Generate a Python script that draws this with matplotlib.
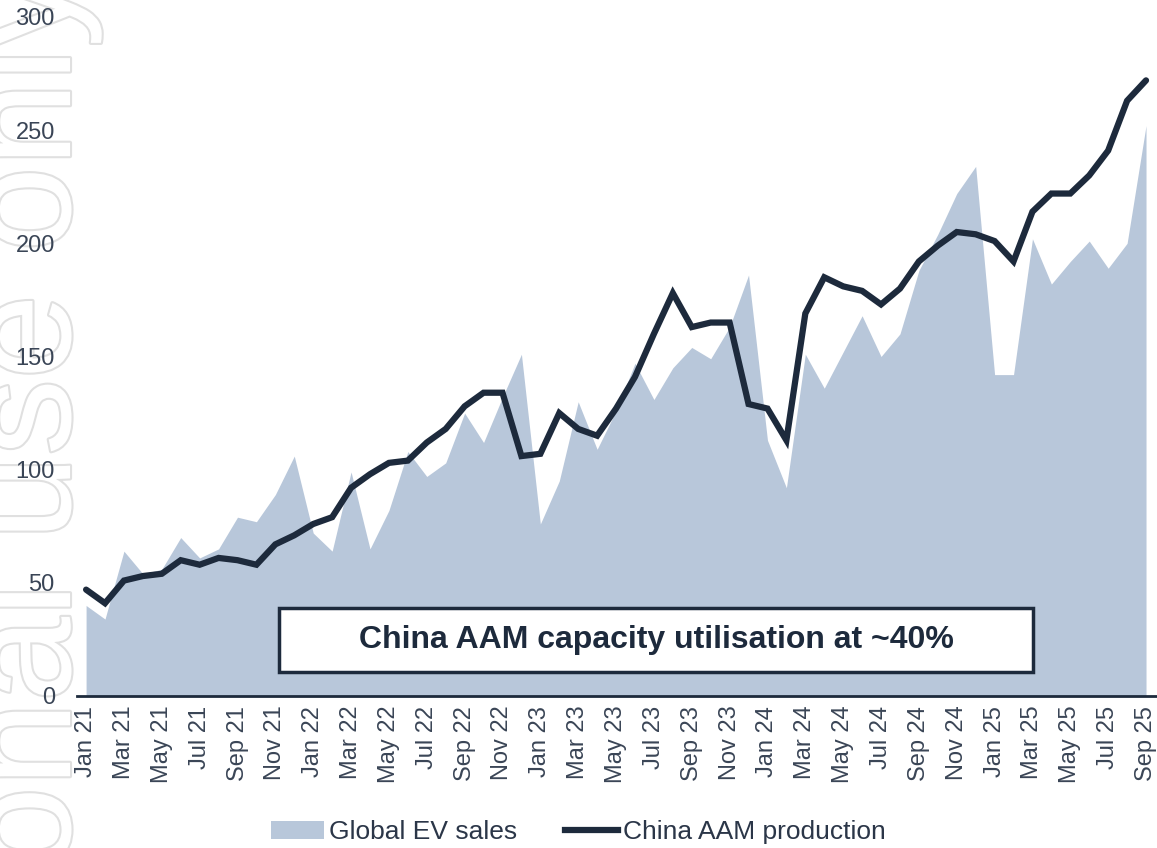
import numpy as np
import pandas as pd
import matplotlib
matplotlib.use("Agg")
import matplotlib.pyplot as plt
from matplotlib.patches import Patch, Rectangle
from matplotlib.lines import Line2D
import matplotlib.patheffects as pe

plt.rcParams['font.family'] = ['Liberation Sans', 'DejaVu Sans']

# monthly series, Jan 2021 .. Sep 2025
months = pd.date_range('2021-01-01', periods=57, freq='MS').strftime('%b %y').tolist()

ev_sales = [40, 34, 64, 54, 56, 70, 61, 65, 79, 77, 89, 106, 72, 64, 99,
            65, 82, 108, 97, 103, 125, 112, 132, 151, 76, 95, 130, 109, 126,
            147, 131, 145, 154, 149, 163, 186, 113, 92, 151, 136, 152, 168,
            150, 160, 188, 204, 222, 234, 142, 142, 202, 182, 192, 201, 189,
            200, 252]

aam_production = [47, 41, 51, 53, 54, 60, 58, 61, 60, 58, 67, 71, 76, 79, 92,
                  98, 103, 104, 112, 118, 128, 134, 134, 106, 107, 125, 118,
                  115, 127, 141, 160, 178, 163, 165, 165, 129, 127, 113, 169,
                  185, 181, 179, 173, 180, 192, 199, 205, 204, 201, 192, 214,
                  222, 222, 230, 241, 263, 272]

area_col = '#b8c7da'
line_col = '#1d2a3c'
tick_col = '#3a4556'

W, H = 1157, 848
fig = plt.figure(figsize=(W / 100, H / 100), dpi=100)
ax = fig.add_axes([77 / W, 1 - 696 / H, 1 - 77 / W, (696 - 17) / H])
ax.patch.set_alpha(0)

x = np.arange(len(months))
ax.fill_between(x, ev_sales, color=area_col, lw=0, zorder=1)
ax.plot(x, aam_production, color=line_col, lw=4.5, solid_joinstyle='miter',
        solid_capstyle='round', zorder=3)

ax.set_xlim(-0.48, 56.58)
ax.set_ylim(0, 300)
ax.set_yticks(range(0, 301, 50))
ax.set_xticks(x[::2])
ax.set_xticklabels(months[::2], rotation=90)
ax.tick_params(axis='both', length=0, labelsize=17, colors=tick_col)
ax.tick_params(axis='y', pad=16)
ax.tick_params(axis='x', pad=7)
for s in ['left', 'right', 'top']:
    ax.spines[s].set_visible(False)
ax.spines['bottom'].set_color(line_col)
ax.spines['bottom'].set_linewidth(2)
ax.spines['bottom'].set_zorder(4)

# callout box
bx0, bx1 = (279 - 77) / 1080, (1033 - 77) / 1080
by0, by1 = (696 - 672) / 679, (696 - 608) / 679
ax.add_patch(Rectangle((bx0, by0), bx1 - bx0, by1 - by0, transform=ax.transAxes,
                       facecolor='white', edgecolor=line_col, lw=2.5, zorder=5))
ax.text((bx0 + bx1) / 2, (by0 + by1) / 2, 'China AAM capacity utilisation at ~40%',
        transform=ax.transAxes, ha='center', va='center', fontsize=23,
        fontweight='bold', color=line_col, zorder=6)

# legend
handles = [Patch(facecolor=area_col, edgecolor='none', label='Global EV sales'),
           Line2D([], [], color=line_col, lw=4.5, label='China AAM production')]
fig.legend(handles=handles, loc='center', bbox_to_anchor=(0.5, 1 - 832 / H),
           ncol=2, frameon=False, fontsize=19, handlelength=2.0,
           handletextpad=0.2, columnspacing=1.8, labelcolor='#2b3648')

# outlined watermark down the left edge
fig.text(70 / W, 1 - 1169 / H, 'personal use only', rotation=90,
         rotation_mode='anchor', ha='left', va='baseline', fontsize=110,
         color='white', zorder=-1,
         path_effects=[pe.withStroke(linewidth=3, foreground='#e0e0e0')])

fig.savefig('out.png', dpi=100)
